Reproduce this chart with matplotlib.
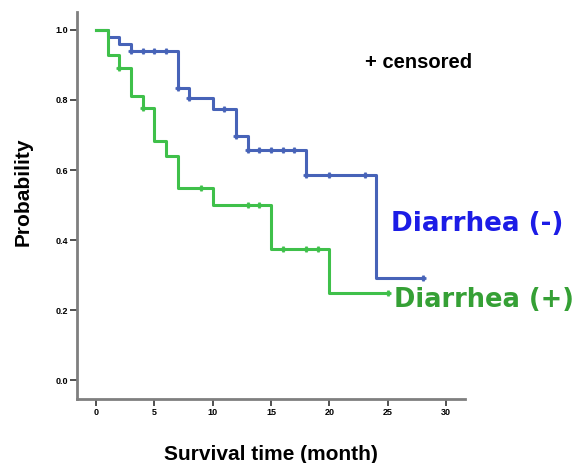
import matplotlib
matplotlib.use('Agg')
import matplotlib.pyplot as plt

# Kaplan-Meier steps: (time of step, survival after it)
neg_time = [0, 1, 2, 3, 7, 8, 10, 12, 13, 18, 24, 28]
neg_surv = [1.0, 0.98, 0.96, 0.94, 0.834, 0.805, 0.774, 0.697, 0.657, 0.586, 0.291, 0.291]
neg_cens_t = [3, 4, 5, 6, 7, 8, 11, 12, 13, 14, 15, 16, 17, 18, 20, 23, 28]
neg_cens_s = [0.94, 0.94, 0.94, 0.94, 0.834, 0.805, 0.774, 0.697,
              0.657, 0.657, 0.657, 0.657, 0.657, 0.586, 0.586, 0.586, 0.291]

pos_time = [0, 1, 2, 3, 4, 5, 6, 7, 10, 15, 20, 25]
pos_surv = [1.0, 0.929, 0.891, 0.811, 0.777, 0.683, 0.64, 0.548, 0.50, 0.374, 0.249, 0.249]
pos_cens_t = [2, 4, 9, 13, 14, 16, 18, 19, 25]
pos_cens_s = [0.891, 0.777, 0.548, 0.50, 0.50, 0.374, 0.374, 0.374, 0.249]

x_ticks = [0, 5, 10, 15, 20, 25, 30]
y_ticks = [0.0, 0.2, 0.4, 0.6, 0.8, 1.0]

BLUE_LINE = '#4763b8'
GREEN_LINE = '#3fc04a'

fig = plt.figure(figsize=(5.74, 4.63), dpi=100)
ax = fig.add_axes([0.134, 0.138, 0.676, 0.836])

ax.step(neg_time, neg_surv, where='post', color=BLUE_LINE, lw=2.2)
ax.plot(neg_cens_t, neg_cens_s, '+', color=BLUE_LINE, ms=5, mew=1.8, ls='none')
ax.plot(neg_cens_t, neg_cens_s, 'o', color=BLUE_LINE, ms=2.5, ls='none')

ax.step(pos_time, pos_surv, where='post', color=GREEN_LINE, lw=2.2)
ax.plot(pos_cens_t, pos_cens_s, '+', color=GREEN_LINE, ms=5, mew=1.8, ls='none')
ax.plot(pos_cens_t, pos_cens_s, 'o', color=GREEN_LINE, ms=2.5, ls='none')

ax.set_xlim(-1.63, 31.6)
ax.set_ylim(-0.054, 1.051)
ax.set_xticks(x_ticks)
ax.set_yticks(y_ticks)
ax.set_xticklabels([str(t) for t in x_ticks], fontsize=6.5, fontweight='bold',
                   family='Liberation Sans')
ax.set_yticklabels([f'{t:.1f}' for t in y_ticks], fontsize=6.5, fontweight='bold',
                   family='Liberation Sans')
ax.tick_params(length=5, width=1.2, color='#333333', pad=1.5)

for side in ('top', 'right'):
    ax.spines[side].set_visible(False)
for side in ('left', 'bottom'):
    ax.spines[side].set_color('#7f7f7f')
    ax.spines[side].set_linewidth(2)

ax.set_xlabel('Survival time (month)', fontsize=15, fontweight='bold',
              family='Liberation Sans', labelpad=20)
ax.set_ylabel('Probability', fontsize=15, fontweight='bold',
              family='Liberation Sans', labelpad=16)
ax.yaxis.label.set_y(0.535)

fig.text(0.636, 0.864, '+ censored', fontsize=14.5, fontweight='bold',
         family='Liberation Sans', va='center', ha='left')
fig.text(0.682, 0.516, 'Diarrhea (-)', fontsize=18.8, fontweight='bold',
         color='#1c1ce6', va='center', ha='left')
fig.text(0.686, 0.352, 'Diarrhea (+)', fontsize=18.5, fontweight='bold',
         color='#35a035', va='center', ha='left')

fig.savefig('out.png', dpi=100)
